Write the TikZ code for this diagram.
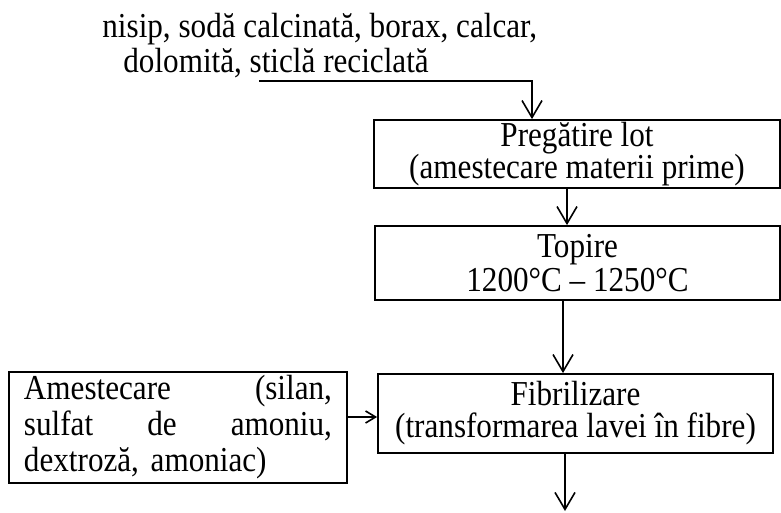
\documentclass[tikz,border=0pt]{standalone}
\usepackage{fontspec}
\setmainfont{Liberation Serif}[FakeStretch=0.89]
\usetikzlibrary{arrows.meta}
\begin{document}
\begin{tikzpicture}[x=0.5pt,y=-0.5pt,
  stepbox/.style={draw, line width=0.9pt, inner sep=0pt, align=center,
    font=\fontsize{17.5}{16}\selectfont},
  arr/.style={-{Straight Barb[length=8.5pt,width=10pt]}, line width=0.8pt},
  sarr/.style={-{Straight Barb[length=5pt,width=6pt]}, line width=0.8pt}]
\useasboundingbox (0,0) rectangle (781,513);
% input text
\node[anchor=north west, inner sep=0pt, align=left,
      font=\fontsize{17.5}{17.5}\selectfont] (inp) at (102,13)
  {nisip, sodă calcinată, borax, calcar,\\\hspace*{10.5pt}dolomită, sticlă reciclată};
% boxes
\node[stepbox, minimum width=203pt, minimum height=34pt] (lot) at (577,154)
  {Pregătire lot\\(amestecare materii prime)};
\node[stepbox, minimum width=202.5pt, minimum height=37pt,
      font=\fontsize{17.5}{17}\selectfont] (top) at (577.5,263)
  {Topire\\1200°C – 1250°C};
\node[stepbox, minimum width=197.5pt, minimum height=39.5pt] (fib) at (575.5,413.5)
  {Fibrilizare\\(transformarea lavei în fibre)};
\node[draw, line width=0.9pt, inner sep=0pt, minimum width=169pt, minimum height=55.5pt,
      text width=154pt, align=left, font=\fontsize{17.5}{18}\selectfont] (ame) at (178,427.5)
  {Amestecare\hfill(silan,\\sulfat\hfill de\hfill amoniu,\\dextroză, amoniac)};
% connector coordinates
\coordinate (in) at (259,81);
\coordinate (bend) at (532,81);
\coordinate (x2) at (567,0);
\coordinate (x3) at (563,0);
\coordinate (x4) at (565,0);
\coordinate (hy) at (0,417);
\coordinate (out) at (565,511);
% connectors
\draw[arr] (in) -- (bend) -- (bend |- lot.north);
\draw[arr] (x2 |- lot.south) -- (x2 |- top.north);
\draw[arr] (x3 |- top.south) -- (x3 |- fib.north);
\draw[sarr] (hy -| ame.east) -- (hy -| fib.west);
\draw[arr] (x4 |- fib.south) -- (out);
\end{tikzpicture}
\end{document}
